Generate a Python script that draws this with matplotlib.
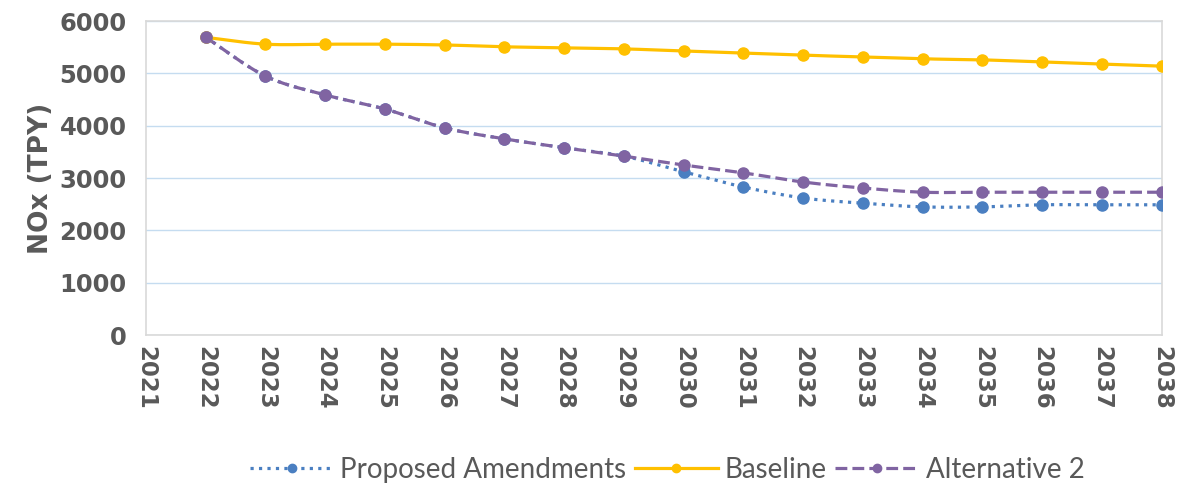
import numpy as np
import matplotlib
matplotlib.use("Agg")
import matplotlib.pyplot as plt

# NOx emissions in tons per year, 2022-2038 (2021 axis slot is empty)
years = list(range(2021, 2039))
data_years = list(range(2022, 2039))
proposed = [5690, 4950, 4590, 4320, 3960, 3750, 3580, 3420, 3120, 2830,
            2620, 2520, 2450, 2450, 2490, 2490, 2490]
baseline = [5690, 5560, 5560, 5560, 5545, 5510, 5490, 5470, 5430, 5390,
            5350, 5315, 5280, 5260, 5220, 5180, 5140]
alternative2 = [5690, 4950, 4590, 4320, 3960, 3750, 3580, 3420, 3250, 3100,
                2925, 2810, 2730, 2730, 2730, 2730, 2730]

GRAY = "#595959"


def smooth(x, y, n=20):
    # catmull-rom curve through the points, like a "smoothed line" in a spreadsheet
    x = np.asarray(x, float)
    y = np.asarray(y, float)
    px = np.concatenate([[2 * x[0] - x[1]], x, [2 * x[-1] - x[-2]]])
    py = np.concatenate([[2 * y[0] - y[1]], y, [2 * y[-1] - y[-2]]])
    xs, ys = [], []
    t = np.linspace(0, 1, n, endpoint=False)
    for i in range(1, len(px) - 2):
        for p, out in ((px, xs), (py, ys)):
            p0, p1, p2, p3 = p[i - 1], p[i], p[i + 1], p[i + 2]
            out.extend(0.5 * ((2 * p1) + (-p0 + p2) * t
                              + (2 * p0 - 5 * p1 + 4 * p2 - p3) * t ** 2
                              + (-p0 + 3 * p1 - 3 * p2 + p3) * t ** 3))
    xs.append(x[-1])
    ys.append(y[-1])
    return np.array(xs), np.array(ys)


fig = plt.figure(figsize=(11.83, 4.92), dpi=100)
ax = fig.add_axes([0.1234, 0.319, 0.8586, 0.638])

xpos = [years.index(y) for y in data_years]
series = [
    ("Proposed Amendments", proposed, "#4a7fc1", ":"),
    ("Baseline", baseline, "#ffc000", "-"),
    ("Alternative 2", alternative2, "#8064a2", "--"),
]
handles = []
for name, vals, col, ls in series:
    sx, sy = smooth(xpos, vals)
    ax.plot(sx, sy, color=col, ls=ls, lw=2.3, zorder=2)
    ax.plot(xpos, vals, ls="none", marker="o", ms=8, color=col, zorder=3)
    h, = ax.plot([], [], color=col, ls=ls, lw=2.3, marker="o", ms=6)
    handles.append(h)

ax.set_xlim(0, len(years) - 1)
ax.set_ylim(0, 6000)
ax.set_yticks(range(0, 6001, 1000))
ax.set_xticks(range(len(years)))
ax.set_xticklabels([str(y) for y in years], rotation=-90, fontsize=16.5,
                   fontweight="bold", color=GRAY)
ax.tick_params(axis="y", labelsize=17.5, labelcolor=GRAY, length=0, pad=14)
ax.tick_params(axis="x", length=0, pad=8)
for lab in ax.get_yticklabels():
    lab.set_fontweight("bold")

ax.grid(axis="y", color="#c5dcf0", lw=1)
ax.set_axisbelow(True)
for sp in ax.spines.values():
    sp.set_color("#d9d9d9")
    sp.set_linewidth(1.2)

ax.set_ylabel("NOx (TPY)", fontsize=19, fontweight="bold", color=GRAY, labelpad=4)

fig.legend(handles, [s[0] for s in series], loc="center",
           bbox_to_anchor=(0.564, 0.045), ncol=3, frameon=False,
           labelcolor=GRAY, handlelength=3.0,
           handletextpad=0.25, columnspacing=0.3,
           prop={"family": "Lato", "size": 20})

fig.savefig("out.png", dpi=100)
